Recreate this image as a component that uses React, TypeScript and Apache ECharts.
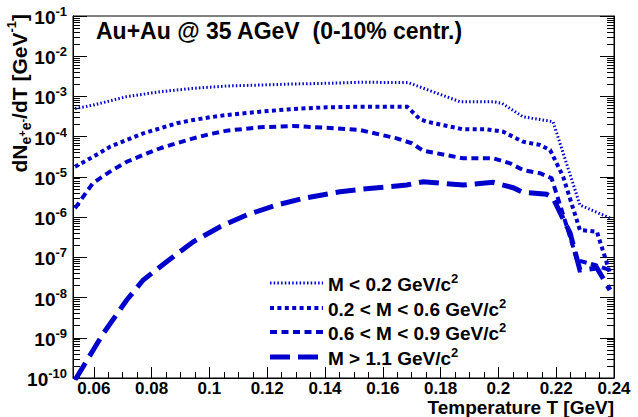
import React, { useEffect, useRef } from "react";
import * as echarts from "echarts";

// M < 0.2 GeV/c^2
const T_LOW = [0.0535, 0.0598, 0.0714, 0.0829, 0.0944, 0.106, 0.1175, 0.1289, 0.1406, 0.1521, 0.1687, 0.1867, 0.1981, 0.2012, 0.2085, 0.2189, 0.2282, 0.2386];
const V_LOW = [5.0e-4, 6.1e-4, 9.9e-4, 1.31e-3, 1.59e-3, 1.82e-3, 1.92e-3, 2.04e-3, 2.12e-3, 2.25e-3, 2.22e-3, 7.4e-4, 7.4e-4, 6.75e-4, 3.13e-4, 2.36e-4, 2.0e-6, 9.5e-7];

// 0.2 < M < 0.6 GeV/c^2
const T_MID1 = [0.0535, 0.0598, 0.0656, 0.0714, 0.0771, 0.0829, 0.0887, 0.0944, 0.1002, 0.106, 0.1175, 0.1289, 0.1406, 0.1521, 0.1684, 0.1729, 0.1752, 0.1878, 0.1961, 0.2016, 0.2085, 0.2144, 0.2179, 0.2224, 0.2282, 0.2341, 0.2386];
const V_MID1 = [1.79e-5, 3.18e-5, 5.62e-5, 8.26e-5, 1.21e-4, 1.61e-4, 2.15e-4, 2.6e-4, 3.03e-4, 3.46e-4, 4.18e-4, 4.88e-4, 5.37e-4, 5.56e-4, 5.56e-4, 2.7e-4, 2.36e-4, 1.52e-4, 1.52e-4, 1.33e-4, 7.5e-5, 6.21e-5, 4.66e-5, 1.01e-5, 4.78e-7, 4.34e-7, 4.07e-8];

// 0.6 < M < 0.9 GeV/c^2
const T_MID2 = [0.0535, 0.0597, 0.0656, 0.0714, 0.077, 0.0829, 0.0887, 0.0944, 0.1002, 0.106, 0.1175, 0.1289, 0.1406, 0.1521, 0.1648, 0.1701, 0.1739, 0.1878, 0.1981, 0.204, 0.2085, 0.2144, 0.2184, 0.2248, 0.2272, 0.2334, 0.2386];
const V_MID2 = [1.66e-6, 7.05e-6, 1.35e-5, 2.38e-5, 3.5e-5, 5.14e-5, 6.84e-5, 9.1e-5, 1.16e-4, 1.41e-4, 1.71e-4, 1.84e-4, 1.67e-4, 1.46e-4, 9.1e-5, 6.84e-5, 4.48e-5, 2.9e-5, 2.9e-5, 2.18e-5, 1.48e-5, 1.23e-5, 9.23e-6, 3.26e-7, 8.57e-8, 6.44e-8, 4.84e-8];

// M > 1.1 GeV/c^2
const T_HIGH = [0.0535, 0.0598, 0.0633, 0.0714, 0.0771, 0.0852, 0.0944, 0.1037, 0.1129, 0.1233, 0.1325, 0.1452, 0.1532, 0.1683, 0.174, 0.1878, 0.1981, 0.2051, 0.2085, 0.2167, 0.2189, 0.2248, 0.2282, 0.2341, 0.2386];
const V_HIGH = [8.9e-11, 4.97e-10, 1.29e-9, 8.69e-9, 2.73e-8, 7.78e-8, 2.44e-7, 5.77e-7, 1.13e-6, 2.0e-6, 2.93e-6, 4.28e-6, 5.0e-6, 6.28e-6, 7.59e-6, 6.28e-6, 7.33e-6, 5.38e-6, 4.14e-6, 3.69e-6, 2.98e-6, 4.03e-7, 4.84e-8, 5.42e-8, 1.54e-8];

const X_LABELS = [0.06, 0.08, 0.1, 0.12, 0.14, 0.16, 0.18, 0.2, 0.22, 0.24];
const X_MINOR = [0.055, 0.065, 0.07, 0.075, 0.085, 0.09, 0.095, 0.105, 0.11, 0.115, 0.125, 0.13, 0.135, 0.145, 0.15, 0.155, 0.165, 0.17, 0.175, 0.185, 0.19, 0.195, 0.205, 0.21, 0.215, 0.225, 0.23, 0.235];
const Y_DECADES = [-10, -9, -8, -7, -6, -5, -4, -3, -2, -1];

const LEGEND_LABELS = ["M < 0.2 GeV/c", "0.2 < M < 0.6 GeV/c", "0.6 < M < 0.9 GeV/c", "M > 1.1 GeV/c"];

const BLUE = "#0000cd";
const FONT = "Liberation Sans, Arial, Helvetica, sans-serif";

const STYLES = [
  { width: 3, dash: [1.5, 2.2] },
  { width: 4, dash: [4, 3.4] },
  { width: 4, dash: [7, 4.5] },
  { width: 5, dash: [20, 8] },
];

export default function App() {
  const ref = useRef<HTMLDivElement>(null);
  useEffect(() => {
    document.body.style.margin = "0";
    if (!ref.current) return;
    const chart = echarts.init(ref.current, undefined, { renderer: "svg" });

    const minorLog: number[] = [];
    for (let d = -10; d < -1; d++) {
      for (let k = 2; k <= 9; k++) minorLog.push(d + Math.log10(k));
    }

    const grid = { left: 73, right: 24, top: 16, bottom: 39 };
    const xMin = 0.0528;
    const xMax = 0.24;

    const seriesData = [
      [T_LOW, V_LOW],
      [T_MID1, V_MID1],
      [T_MID2, V_MID2],
      [T_HIGH, V_HIGH],
    ];

    const legendY = [283, 308, 332, 357];
    const legendGraphics: any[] = [];
    LEGEND_LABELS.forEach((lab, i) => {
      legendGraphics.push({
        type: "line",
        shape: { x1: 270, y1: legendY[i], x2: 323, y2: legendY[i] },
        style: { stroke: BLUE, lineWidth: STYLES[i].width, lineDash: STYLES[i].dash, lineCap: "butt" },
        z: 10,
      });
      legendGraphics.push({
        type: "text",
        x: 328,
        y: legendY[i],
        style: {
          text: `{m|${lab}}{s|2}`,
          verticalAlign: "middle",
          align: "left",
          rich: {
            m: { fontFamily: FONT, fontWeight: "bold", fontSize: 19, fill: "#000", lineHeight: 22, verticalAlign: "bottom" },
            s: { fontFamily: FONT, fontWeight: "bold", fontSize: 13, fill: "#000", lineHeight: 22, verticalAlign: "top" },
          },
        },
        z: 10,
      });
    });

    chart.setOption({
      animation: false,
      backgroundColor: "#fff",
      grid: { ...grid, show: true, borderColor: "#000", borderWidth: 1, backgroundColor: "transparent" },
      xAxis: [
        {
          type: "value",
          min: xMin,
          max: xMax,
          position: "bottom",
          axisLine: { show: true, lineStyle: { color: "#000", width: 1 } },
          axisTick: { show: true, inside: true, length: 11, customValues: X_LABELS, lineStyle: { color: "#000" } },
          axisLabel: {
            show: true,
            customValues: X_LABELS,
            margin: 2,
            color: "#000",
            fontFamily: FONT,
            fontWeight: "bold",
            fontSize: 17,
            lineHeight: 17,
            formatter: (v: number) => String(+v.toFixed(2)),
          },
          splitLine: { show: false },
        },
        {
          type: "value",
          min: xMin,
          max: xMax,
          position: "bottom",
          axisLine: { show: false },
          axisTick: { show: true, inside: true, length: 6, customValues: X_MINOR, lineStyle: { color: "#000" } },
          axisLabel: { show: false },
          splitLine: { show: false },
        },
      ],
      yAxis: [
        {
          type: "log",
          logBase: 10,
          min: 1e-10,
          max: 1e-1,
          interval: 1,
          position: "left",
          axisLine: { show: true, lineStyle: { color: "#000" } },
          axisTick: { show: true, inside: true, length: 14, lineStyle: { color: "#000" } },
          axisLabel: {
            show: true,
            margin: 6,
            formatter: (v: number) => `{b|10}{s|${Math.round(Math.log10(v))}}`,
            rich: {
              b: { fontFamily: FONT, fontWeight: "bold", fontSize: 19, color: "#000", lineHeight: 22, verticalAlign: "bottom" },
              s: { fontFamily: FONT, fontWeight: "bold", fontSize: 13, color: "#000", lineHeight: 22, verticalAlign: "top" },
            },
          },
          splitLine: { show: false },
        },
        {
          type: "value",
          min: -10,
          max: -1,
          position: "left",
          axisLine: { show: false },
          axisTick: { show: true, inside: true, length: 7, customValues: minorLog, lineStyle: { color: "#000" } },
          axisLabel: { show: false },
          splitLine: { show: false },
        },
        {
          type: "value",
          min: -10,
          max: -1,
          position: "right",
          axisLine: { show: true, lineStyle: { color: "#000" } },
          axisTick: { show: true, inside: true, length: 14, customValues: Y_DECADES, lineStyle: { color: "#000" } },
          axisLabel: { show: false },
          splitLine: { show: false },
        },
        {
          type: "value",
          min: -10,
          max: -1,
          position: "right",
          axisLine: { show: false },
          axisTick: { show: true, inside: true, length: 7, customValues: minorLog, lineStyle: { color: "#000" } },
          axisLabel: { show: false },
          splitLine: { show: false },
        },
      ],
      series: seriesData.map(([t, v], i) => ({
        type: "line",
        xAxisIndex: 0,
        yAxisIndex: 0,
        showSymbol: false,
        symbol: "none",
        clip: true,
        data: t.map((tt, j) => [tt, v[j]]),
        lineStyle: { color: BLUE, width: STYLES[i].width, type: STYLES[i].dash, cap: "butt", join: "miter" },
        z: 5,
      })),
      graphic: [
        {
          type: "text",
          x: 96,
          y: 31,
          style: {
            text: "Au+Au @ 35 AGeV  (0-10% centr.)",
            fontFamily: FONT,
            fontWeight: "bold",
            fontSize: 23,
            fill: "#000",
            verticalAlign: "middle",
            align: "left",
          },
        },
        {
          type: "text",
          x: 614,
          y: 407,
          style: {
            text: "Temperature T [GeV]",
            fontFamily: FONT,
            fontWeight: "bold",
            fontSize: 19,
            lineHeight: 19,
            fill: "#000",
            verticalAlign: "middle",
            align: "right",
          },
        },
        {
          type: "text",
          x: 19,
          y: 14,
          rotation: Math.PI / 2,
          style: {
            text: "{m|dN}{sub|e}{ss|+}{sub|e}{ss|-}{m|/dT [GeV}{sup|-1}{m|]}",
            verticalAlign: "middle",
            align: "right",
            rich: {
              m: { fontFamily: FONT, fontWeight: "bold", fontSize: 21, fill: "#000", lineHeight: 28, verticalAlign: "middle" },
              sub: { fontFamily: FONT, fontWeight: "bold", fontSize: 14, fill: "#000", lineHeight: 28, verticalAlign: "bottom" },
              ss: { fontFamily: FONT, fontWeight: "bold", fontSize: 11, fill: "#000", lineHeight: 28, verticalAlign: "bottom", padding: [0, 0, 6, 0] },
              sup: { fontFamily: FONT, fontWeight: "bold", fontSize: 13, fill: "#000", lineHeight: 28, verticalAlign: "top" },
            },
          },
        },
        ...legendGraphics,
      ],
    });
    return () => chart.dispose();
  }, []);
  return <div ref={ref} style={{ width: 638, height: 417 }} />;
}
